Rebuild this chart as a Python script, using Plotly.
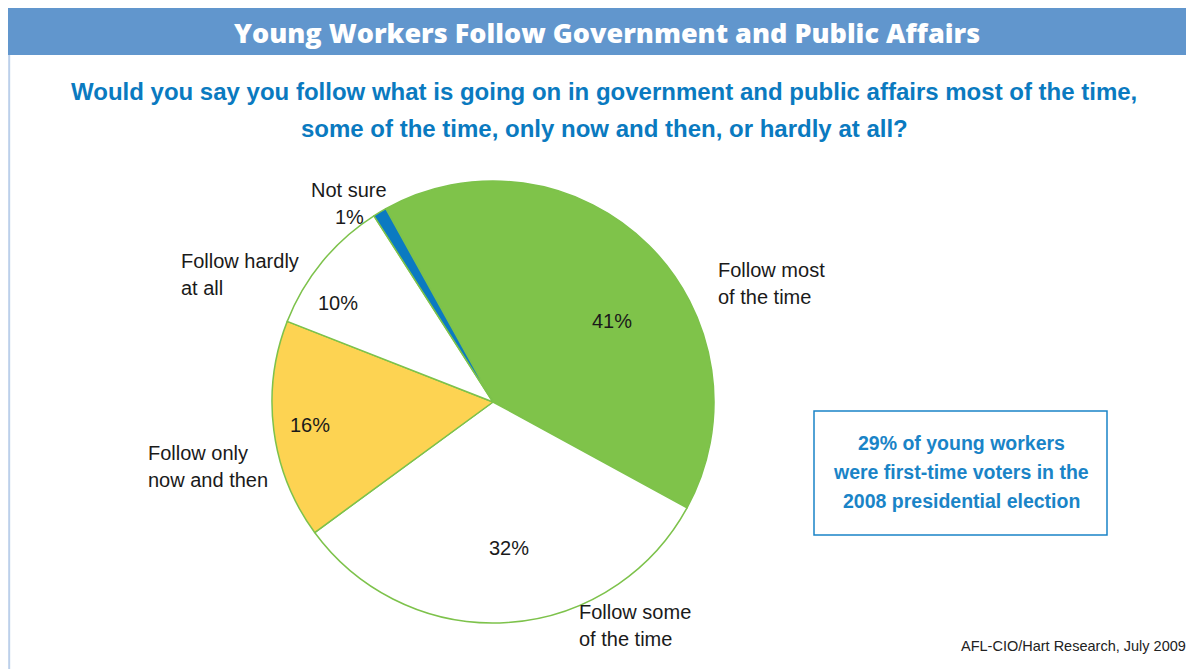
import plotly.graph_objects as go

# ---- data ----
categories = ["Follow most<br>of the time", "Follow some<br>of the time",
              "Follow only<br>now and then", "Follow hardly<br>at all", "Not sure"]
values = [41, 32, 16, 10, 1]
slice_colors = ["#7fc34a", "#ffffff", "#fdd352", "#ffffff", "#0b7ac1"]

title_text = "Young Workers Follow Government and Public Affairs"
question_lines = ["Would you say you follow what is going on in government and public affairs most of the time,",
                  "some of the time, only now and then, or hardly at all?"]
callout_lines = ["29% of young workers", "were first-time voters in the", "2008 presidential election"]
source_text = "AFL-CIO/Hart Research, July 2009"

# the page body has an 8px margin: the figure sits at (8, 8)
OFF = 8
W, H = 1194 - OFF, 669 - OFF


def px(x):
    return (x - OFF) / W


def py(y):
    return 1 - (y - OFF) / H


# pie geometry (layout, in window pixels)
cx, cy, r = 493, 402, 221

fig = go.Figure()
fig.add_trace(go.Pie(
    values=values,
    labels=[c.replace("<br>", " ") for c in categories],
    sort=False,
    direction="clockwise",
    rotation=331,
    marker=dict(colors=slice_colors, line=dict(color="#7dc24b", width=1.5)),
    textinfo="none",
    hoverinfo="label+percent",
    showlegend=False,
    domain=dict(x=[px(cx - r), px(cx + r)], y=[py(cy + r), py(cy - r)]),
))

FONT = "Liberation Sans, Arial, sans-serif"
label_font = dict(family=FONT, size=20, color="#1a1a1a")

annotations = []


def add_lines(lines, x, y0, step, xanchor, font):
    for k, line in enumerate(lines):
        annotations.append(dict(x=px(x), y=py(y0 + k * step), xref="paper", yref="paper", text=line,
                                showarrow=False, xanchor=xanchor, yanchor="middle", font=font))


# outside labels (positions are layout): x, first-line y, xanchor
label_pos = [
    (716, 270, "left"),
    (577, 612, "left"),
    (146, 453, "left"),
    (179, 261, "left"),
    (349, 190, "center"),
]
pct_pos = [(612, 321), (509, 548), (310, 425), (338, 303)]

for i, (cat, val) in enumerate(zip(categories, values)):
    x, y, xa = label_pos[i]
    lines = cat.split("<br>")
    if i == 4:
        lines = lines + [f"{val}%"]
    add_lines(lines, x, y, 27, xa, label_font)
    if i < len(pct_pos):
        annotations.append(dict(x=px(pct_pos[i][0]), y=py(pct_pos[i][1]), xref="paper", yref="paper",
                                text=f"{val}%", showarrow=False, xanchor="center", yanchor="middle",
                                font=label_font))

# header title
annotations.append(dict(x=px(607), y=py(32), xref="paper", yref="paper", text=title_text,
                        showarrow=False, xanchor="center", yanchor="middle",
                        font=dict(family="Open Sans, sans-serif", size=27, weight=800, color="#ffffff")))
# question
add_lines([f"<b>{t}</b>" for t in question_lines], 604, 91, 37, "center",
          dict(family=FONT, size=24, color="#0a7ac0"))
# callout
add_lines([f"<b>{t}</b>" for t in callout_lines], 961, 443, 29, "center",
          dict(family=FONT, size=19.5, color="#1a84c7"))
# source
annotations.append(dict(x=px(1188), y=py(646), xref="paper", yref="paper", text=source_text,
                        showarrow=False, xanchor="right", yanchor="middle",
                        font=dict(family=FONT, size=14.5, color="#222222")))

shapes = [
    dict(type="rect", xref="paper", yref="paper", x0=0, x1=1, y0=py(55), y1=py(7),
         fillcolor="#6196cd", line=dict(width=0), layer="below"),
    dict(type="line", xref="paper", yref="paper", x0=0.001, x1=0.001, y0=0, y1=py(55),
         line=dict(color="#bcd0ea", width=2)),
    dict(type="rect", xref="paper", yref="paper", x0=px(814), x1=px(1107), y0=py(535), y1=py(411),
         line=dict(color="#1a84c7", width=1.5), fillcolor="rgba(0,0,0,0)"),
]

fig.update_layout(
    width=W, height=H,
    margin=dict(l=0, r=0, t=0, b=0),
    paper_bgcolor="#ffffff", plot_bgcolor="#ffffff",
    annotations=annotations, shapes=shapes,
)

fig.write_html("out.html")
